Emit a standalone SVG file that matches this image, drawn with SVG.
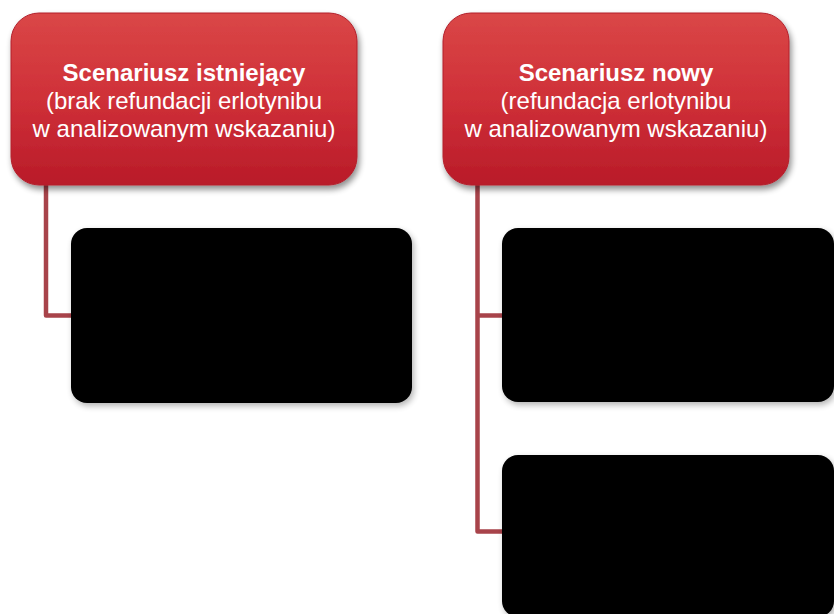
<svg xmlns="http://www.w3.org/2000/svg" width="834" height="614" viewBox="0 0 834 614">
  <defs>
    <linearGradient id="redGrad" x1="0" y1="0" x2="0" y2="1">
      <stop offset="0" stop-color="#da4747"/>
      <stop offset="0.5" stop-color="#cf3038"/>
      <stop offset="1" stop-color="#b91b29"/>
    </linearGradient>
    <filter id="shadow" x="-10%" y="-10%" width="125%" height="130%">
      <feGaussianBlur in="SourceAlpha" stdDeviation="3"/>
      <feOffset dx="2" dy="4" result="b"/>
      <feComponentTransfer><feFuncA type="linear" slope="0.45"/></feComponentTransfer>
      <feMerge><feMergeNode/><feMergeNode in="SourceGraphic"/></feMerge>
    </filter>
    <filter id="shadowSoft" x="-10%" y="-10%" width="125%" height="130%">
      <feGaussianBlur in="SourceAlpha" stdDeviation="3"/>
      <feOffset dx="2" dy="3" result="b"/>
      <feComponentTransfer><feFuncA type="linear" slope="0.3"/></feComponentTransfer>
      <feMerge><feMergeNode/><feMergeNode in="SourceGraphic"/></feMerge>
    </filter>
  </defs>
  <style>
    .red { fill: url(#redGrad); stroke: #b2202c; stroke-width: 1; filter: url(#shadow); }
    .blk { fill: #000000; filter: url(#shadowSoft); }
    .conn { fill: none; stroke: #a8434a; stroke-width: 4.5; stroke-linejoin: round; }
    .t { font-family: "Liberation Sans", Arial, sans-serif; font-size: 24px; fill: #ffffff; text-anchor: middle; }
    .b { font-weight: bold; }
  </style>
  <rect width="834" height="614" fill="#ffffff"/>

  <g id="connectors">
    <path class="conn" d="M46,185 V315.5 H72"/>
    <path class="conn" d="M477.5,185 V531.5 H503"/>
    <path class="conn" d="M477.5,315.5 H503"/>
  </g>

  <g id="node-existing">
    <rect class="red" x="11" y="13" width="346" height="172" rx="28" ry="28"/>
    <text class="t b" x="184" y="81">Scenariusz istniejący</text>
    <text class="t" x="184" y="109">(brak refundacji erlotynibu</text>
    <text class="t" x="184" y="137">w analizowanym wskazaniu)</text>
  </g>

  <g id="node-new">
    <rect class="red" x="443" y="13" width="346" height="172" rx="28" ry="28"/>
    <text class="t b" x="616" y="81">Scenariusz nowy</text>
    <text class="t" x="616" y="109">(refundacja erlotynibu</text>
    <text class="t" x="616" y="137">w analizowanym wskazaniu)</text>
  </g>

  <g id="box-left">
    <rect class="blk" x="71" y="228" width="341" height="175" rx="16" ry="16"/>
  </g>
  <g id="box-right-1">
    <rect class="blk" x="502" y="228" width="332" height="174" rx="16" ry="16"/>
  </g>
  <g id="box-right-2">
    <rect class="blk" x="502" y="455" width="332" height="162" rx="16" ry="16"/>
  </g>
</svg>
